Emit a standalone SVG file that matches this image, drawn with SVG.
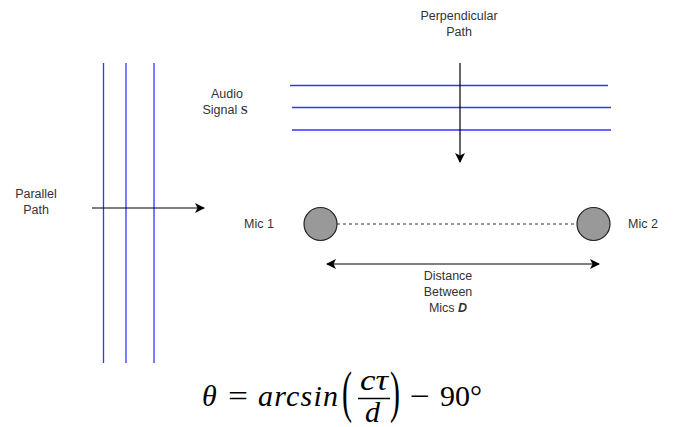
<svg xmlns="http://www.w3.org/2000/svg" width="673" height="427" viewBox="0 0 673 427">
<style>
.lbl{font-family:"Liberation Sans",Arial,sans-serif;font-size:12.5px;fill:#333;text-anchor:middle}
.wave{stroke:#3434ff;stroke-width:1.3;fill:none}
.arr{stroke:#000;stroke-width:1.2;fill:none}
.mic{fill:#999;stroke:#222;stroke-width:1.2}
.m{font-family:"Liberation Serif","Times New Roman",serif;font-size:30px;fill:#000}
.mi{font-style:italic}
</style>
<defs>
<marker id="ah" markerWidth="10" markerHeight="10" refX="9" refY="5" orient="auto-start-reverse" markerUnits="userSpaceOnUse">
<path d="M0,0 L10,5 L0,10 L2.5,5 Z" fill="#000"/>
</marker>
</defs>
<rect width="673" height="427" fill="#fff"/>
<g id="parallel-waves">
<line class="wave" x1="103.5" y1="63" x2="103.5" y2="363"/>
<line class="wave" x1="126" y1="63" x2="126" y2="363"/>
<line class="wave" x1="154" y1="63" x2="154" y2="363"/>
</g>
<g id="perpendicular-waves">
<line class="wave" x1="290" y1="85.5" x2="608" y2="85.5"/>
<line class="wave" x1="292" y1="107.5" x2="611" y2="107.5"/>
<line class="wave" x1="292" y1="130" x2="611" y2="130"/>
</g>
<g id="labels">
<text class="lbl" x="459" y="20">Perpendicular</text>
<text class="lbl" x="459" y="36">Path</text>
<text class="lbl" x="227" y="98">Audio</text>
<text class="lbl" x="225" y="114">Signal <tspan font-family="Liberation Serif,serif" font-weight="bold">S</tspan></text>
<text class="lbl" x="36" y="198">Parallel</text>
<text class="lbl" x="36" y="214">Path</text>
<text class="lbl" x="259" y="228">Mic 1</text>
<text class="lbl" x="643" y="228">Mic 2</text>
<text class="lbl" x="448" y="280">Distance</text>
<text class="lbl" x="448" y="296">Between</text>
<text class="lbl" x="448" y="312">Mics <tspan font-weight="bold" font-style="italic">D</tspan></text>
</g>
<g id="mic1"><circle class="mic" cx="320.5" cy="224" r="16.5"/></g>
<g id="mic2"><circle class="mic" cx="593.5" cy="224" r="16.5"/></g>
<g id="connectors">
<line class="arr" x1="460" y1="63" x2="460" y2="162" marker-end="url(#ah)"/>
<line class="arr" x1="92" y1="208" x2="204" y2="208" marker-end="url(#ah)"/>
<line x1="337" y1="224" x2="577" y2="224" stroke="#333" stroke-width="1" stroke-dasharray="3,3"/>
<line class="arr" x1="327" y1="264" x2="599" y2="264" marker-start="url(#ah)" marker-end="url(#ah)"/>
</g>
<g id="formula">
<text class="m mi" x="202" y="406">θ</text>
<text class="m" x="228" y="406" textLength="20" lengthAdjust="spacingAndGlyphs">=</text>
<text class="m mi" x="258" y="406" textLength="80" lengthAdjust="spacing">arcsin</text>
<text class="m" transform="translate(342,411) scale(1,1.9)" x="0" y="0">(</text>
<text class="m mi" x="360" y="390" textLength="28" lengthAdjust="spacingAndGlyphs">cτ</text>
<line x1="358" y1="398.5" x2="390" y2="398.5" stroke="#000" stroke-width="1.5"/>
<text class="m mi" x="365" y="422">d</text>
<text class="m" transform="translate(390,411) scale(1,1.9)" x="0" y="0">)</text>
<text class="m" x="410" y="406" textLength="20" lengthAdjust="spacingAndGlyphs">−</text>
<text class="m" x="440" y="406">90°</text>
</g>
</svg>
